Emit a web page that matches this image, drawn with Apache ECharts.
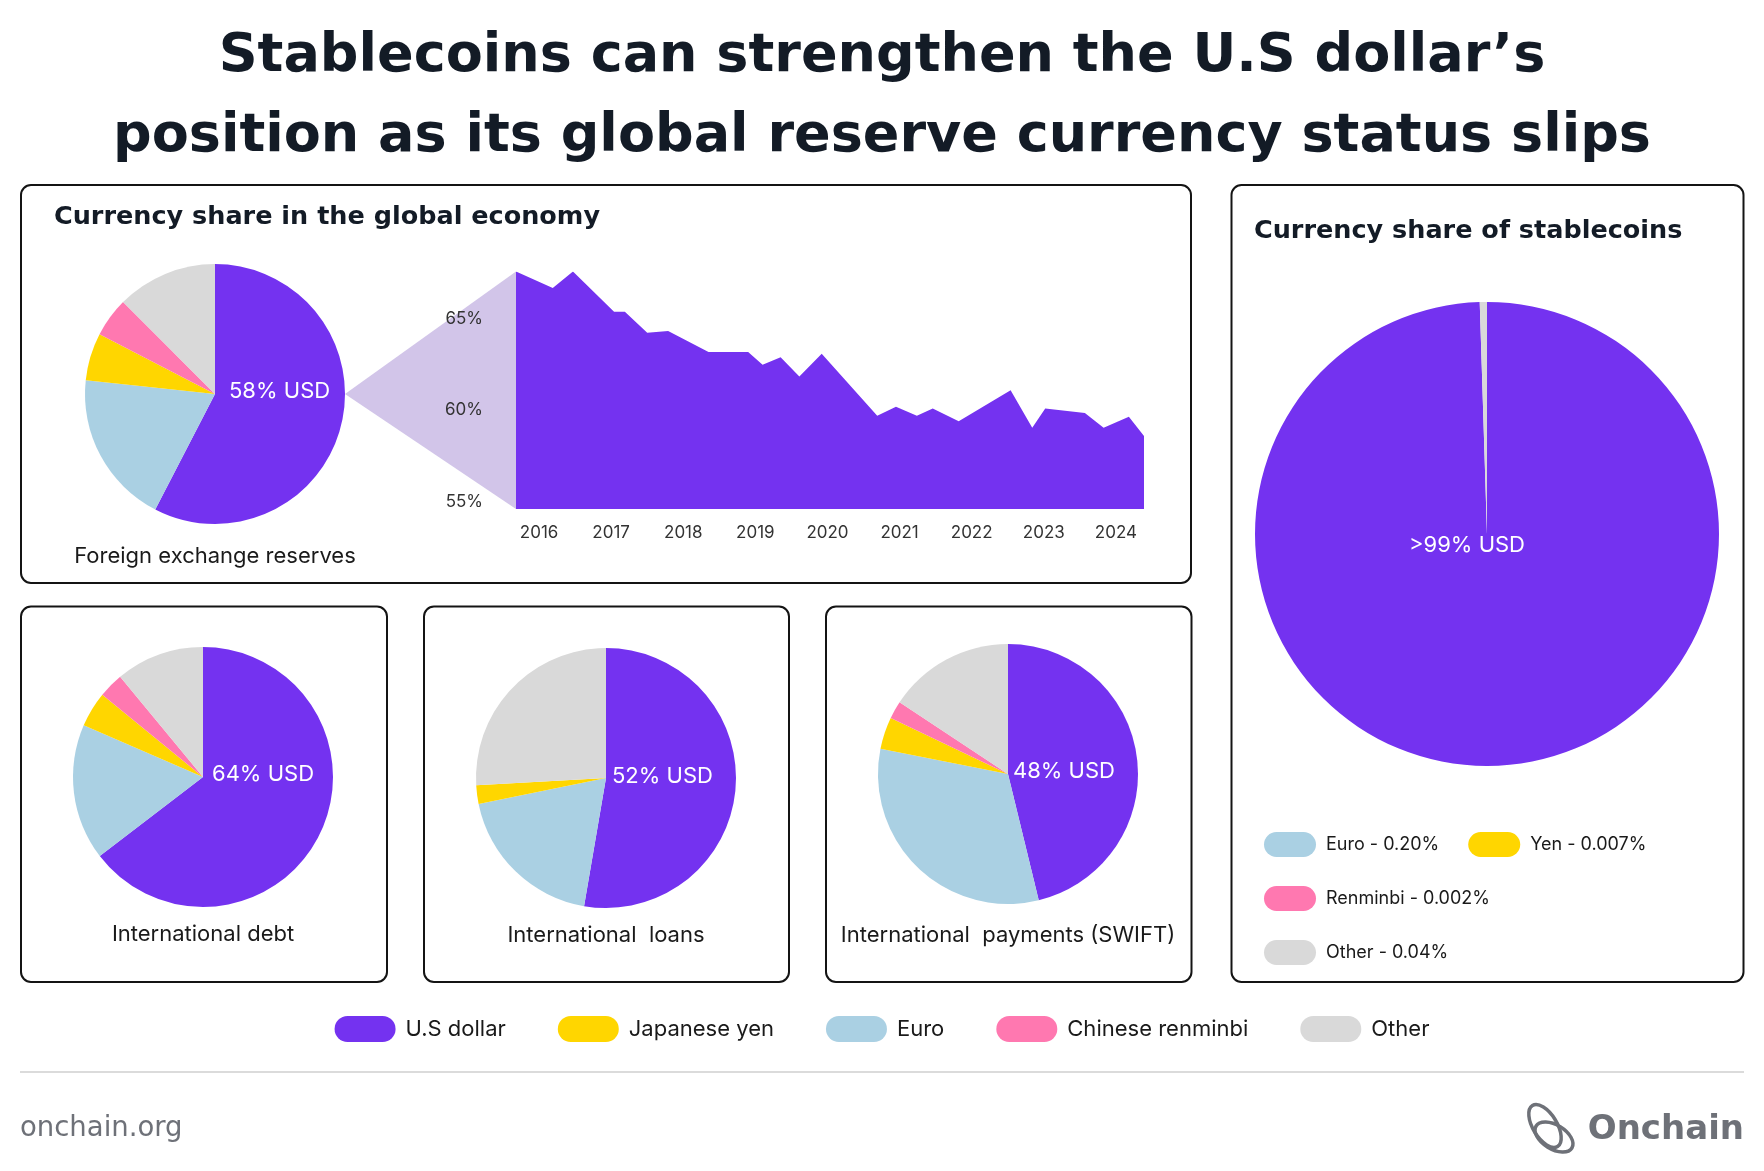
<!DOCTYPE html>
<html>
<head>
<meta charset="utf-8">
<script src="https://cdn.jsdelivr.net/npm/echarts@6/dist/echarts.min.js"></script>
<style>
  html, body { margin: 0; padding: 0; background: #fff; }
  #chart { width: 1764px; height: 1171px; }
</style>
</head>
<body>
<div id="chart"></div>
<script>
// pie slice order, clockwise from 12 o'clock
const currencies = ['U.S dollar', 'Euro', 'Japanese yen', 'Chinese renminbi', 'Other'];
const reservesShare = [57.6, 19.1, 5.9, 4.9, 12.5];
const debtShare = [64.6, 16.9, 4.4, 3.1, 11.0];
const loansShare = [52.7, 19.1, 2.3, 0, 25.9];
const paymentsShare = [46.2, 31.9, 4.0, 2.2, 15.7];
const usdLabels = ['58% USD', '64% USD', '52% USD', '48% USD'];
const pieCaptions = ['Foreign exchange reserves', 'International debt', 'International  loans', 'International  payments (SWIFT)'];

// stablecoins
const stableNames = ['U.S dollar', 'Euro', 'Yen', 'Renminbi', 'Other'];
const stableDrawn = [99.5, 0, 0, 0, 0.5];
const stableLegendNames = ['Euro', 'Yen', 'Renminbi', 'Other'];
const stableLegendValues = ['0.20%', '0.007%', '0.002%', '0.04%'];
const stableUsdLabel = '>99% USD';

// USD share of FX reserves over time
const reserveDates = [2016.18, 2016.69, 2016.97, 2017.54, 2017.69, 2018.00, 2018.29, 2018.85, 2019.40,
  2019.60, 2019.85, 2020.11, 2020.42, 2021.19, 2021.45, 2021.74, 2021.96, 2022.32, 2023.04,
  2023.34, 2023.52, 2024.07, 2024.33, 2024.68, 2024.89];
const usdReserveShare = [67.6, 66.7, 67.6, 65.4, 65.4, 64.25, 64.35, 63.2, 63.2,
  62.5, 62.9, 61.85, 63.1, 59.7, 60.2, 59.7, 60.1, 59.4, 61.1,
  59.05, 60.1, 59.85, 59.05, 59.65, 58.6];
const yearLabels = [2016, 2017, 2018, 2019, 2020, 2021, 2022, 2023, 2024];
const pctTicks = [55, 60, 65];

const titleLines = ['Stablecoins can strengthen the U.S dollar’s', 'position as its global reserve currency status slips'];

const palette = ['#7432F0', '#AAD0E3', '#FFD600', '#FF78B0', '#D9D9D9'];
const ink = '#131B26';
const FONT = 'Inter, "Noto Sans", sans-serif';
const WIDE = '"DejaVu Sans", sans-serif';

const yMin = 54.6, yMax = 67.6;

const pies = [
  { values: reservesShare, center: [215, 394], r: 130, label: [14, -3], cap: 556 },
  { values: debtShare, center: [203, 777], r: 130, label: [9, -3], cap: 934 },
  { values: loansShare, center: [606, 778], r: 130, label: [6, -2], cap: 935 },
  { values: paymentsShare, center: [1008, 774], r: 130, label: [5, -3], cap: 935 }
];
const stablePie = { center: [1487, 534], r: 232 };

function pieSeries(values, names, center, r) {
  return {
    type: 'pie',
    center: center,
    radius: r,
    startAngle: 90,
    clockwise: true,
    silent: true,
    label: { show: false },
    labelLine: { show: false },
    itemStyle: { borderWidth: 0 },
    data: values.map((v, i) => ({
      name: names[i],
      value: v,
      itemStyle: { color: palette[i] }
    }))
  };
}

const chart = echarts.init(document.getElementById('chart'), null, { renderer: 'canvas' });

const pillMain = 'path://M13,0H48A13,13,0,0,1,48,26H13A13,13,0,0,1,13,0Z';
const pillSmall = 'path://M12.5,0H39.5A12.5,12.5,0,0,1,39.5,25H12.5A12.5,12.5,0,0,1,12.5,0Z';

const series = pies.map(p => pieSeries(p.values, currencies, p.center, p.r));
series.push(pieSeries(stableDrawn, stableNames, stablePie.center, stablePie.r));
series.push({
  type: 'line',
  name: 'USD share of reserves',
  data: reserveDates.map((d, i) => [d, usdReserveShare[i]]),
  symbol: 'none',
  silent: true,
  lineStyle: { width: 0 },
  itemStyle: { color: palette[0] },
  areaStyle: { color: palette[0], opacity: 1 },
  z: 3
});

chart.setOption({
  animation: false,
  backgroundColor: '#fff',
  grid: { left: 516, top: 271.5, width: 628, height: 237.5 },
  xAxis: {
    type: 'value',
    min: reserveDates[0],
    max: reserveDates[reserveDates.length - 1],
    axisLine: { show: false },
    axisTick: { show: false },
    splitLine: { show: false },
    axisLabel: {
      customValues: yearLabels.map(y => y + 0.5),
      formatter: v => String(Math.floor(v)),
      color: '#333', fontSize: 17, fontFamily: FONT, margin: 15
    }
  },
  yAxis: {
    type: 'value',
    min: yMin,
    max: yMax,
    axisLine: { show: false },
    axisTick: { show: false },
    splitLine: { show: false },
    axisLabel: {
      customValues: pctTicks,
      formatter: '{value}%',
      color: '#333', fontSize: 17, fontFamily: FONT, margin: 33
    }
  },
  legend: [
    {
      data: ['U.S dollar', 'Japanese yen', 'Euro', 'Chinese renminbi', 'Other'],
      left: 'center',
      top: 1016,
      padding: 0,
      icon: pillMain,
      itemWidth: 61,
      itemHeight: 26,
      itemGap: 52,
      selectedMode: false,
      textStyle: { fontFamily: FONT, fontSize: 22, color: '#1A1A1A', padding: [0, 0, 0, 5] }
    },
    {
      data: stableLegendNames,
      left: 1264,
      top: 832,
      padding: 0,
      width: 405,
      icon: pillSmall,
      itemWidth: 52,
      itemHeight: 25,
      itemGap: 29,
      selectedMode: false,
      formatter: name => name + ' - ' + stableLegendValues[stableLegendNames.indexOf(name)],
      textStyle: { fontFamily: FONT, fontSize: 18, color: '#1A1A1A', padding: [0, 0, 0, 5] }
    }
  ],
  series: series
});

// decorations: boxes, connector triangle, texts, footer
const topPt = chart.convertToPixel({ gridIndex: 0 }, [reserveDates[0], usdReserveShare[0]]);
const botPt = chart.convertToPixel({ gridIndex: 0 }, [reserveDates[0], yMin]);
const p0 = pies[0];

function box(x, y, w, h) {
  return { type: 'rect', shape: { x: x, y: y, width: w, height: h, r: 10 },
    style: { fill: 'none', stroke: '#141414', lineWidth: 2 }, z: 1, silent: true };
}
function txt(text, x, y, size, weight, align, color, z, family) {
  return { type: 'text', x: x, y: y, z: z || 5, silent: true,
    style: { text: text, fontFamily: family || FONT, fontSize: size, fontWeight: weight || 'normal',
      fill: color || '#1A1A1A', align: align || 'left', verticalAlign: 'middle' } };
}

const logoGray = '#6E7178';
const graphics = [
  txt(titleLines[0], 882, 57, 54, 'bold', 'center', ink, 5, WIDE),
  txt(titleLines[1], 882, 137, 54, 'bold', 'center', ink, 5, WIDE),
  box(21, 185, 1170, 398),
  box(21, 606.5, 366, 375.5),
  box(424, 606.5, 365, 375.5),
  box(826, 606.5, 365.5, 375.5),
  box(1231.5, 185, 512, 797),
  { type: 'polygon', z: 0, silent: true,
    shape: { points: [[p0.center[0] + p0.r, p0.center[1]], topPt, botPt] },
    style: { fill: '#D2C5E9' } },
  txt('Currency share in the global economy', 54, 217, 25.5, 'bold', 'left', ink, 5, WIDE),
  txt('Currency share of stablecoins', 1254, 231, 25.5, 'bold', 'left', ink, 5, WIDE),
  txt(stableUsdLabel, stablePie.center[0] - 20, stablePie.center[1] + 11, 22, 'normal', 'center', '#fff', 20),
  { type: 'line', shape: { x1: 20, y1: 1072, x2: 1744, y2: 1072 },
    style: { stroke: '#CFCFCF', lineWidth: 1.5 }, silent: true },
  txt('onchain.org', 20, 1129, 27.5, 'normal', 'left', logoGray, 5, WIDE),
  txt('Onchain', 1744, 1130, 34, 'bold', 'right', logoGray, 5, WIDE),
  { type: 'ellipse', shape: { cx: 1545, cy: 1126, rx: 12, ry: 24 }, rotation: 0.55, originX: 1545, originY: 1126,
    style: { fill: 'none', stroke: logoGray, lineWidth: 3.5 }, silent: true },
  { type: 'ellipse', shape: { cx: 1554, cy: 1137, rx: 21, ry: 12 }, rotation: -0.55, originX: 1554, originY: 1137,
    style: { fill: 'none', stroke: logoGray, lineWidth: 3.5 }, silent: true }
];
pies.forEach((p, i) => {
  graphics.push(txt(usdLabels[i], p.center[0] + p.label[0], p.center[1] + p.label[1], 22, 'normal', 'left', '#fff', 20));
  graphics.push(txt(pieCaptions[i], p.center[0], p.cap, 22, 'normal', 'center', '#1A1A1A'));
});

chart.setOption({ graphic: graphics });
</script>
</body>
</html>
